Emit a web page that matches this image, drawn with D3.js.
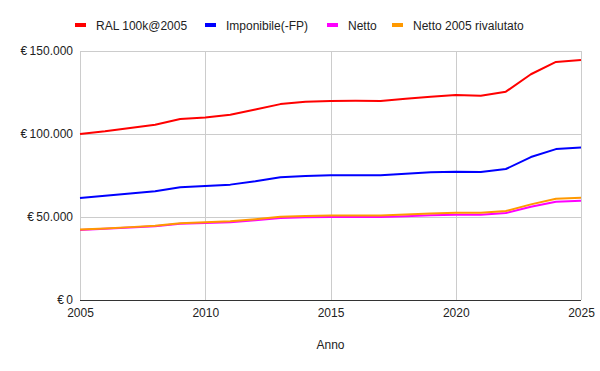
<!DOCTYPE html>
<html lang="it">
<head>
  <meta charset="UTF-8">
  <title>RAL vs Netto</title>
  <script src="https://d3js.org/d3.v7.min.js"></script>
  <style>
    body { margin: 0; font-family: "Liberation Sans", Arial, sans-serif; background: #fff; }
    .grid line { stroke: #ccc; stroke-width: 1; shape-rendering: crispEdges; }
    .line { fill: none; stroke-width: 2; stroke-linejoin: round; }
  </style>
</head>
<body>
  <svg id="chart" width="600" height="371"></svg>
  <script>
    const years = d3.range(2005, 2026);
    const ral      = [100000, 101600, 103600, 105600, 109000, 110000, 111600, 114700, 118000, 119500, 119900, 120000, 119900, 121300, 122500, 123500, 123100, 125500, 136000, 143400, 144600];
    const impon    = [61400, 62800, 64200, 65500, 67900, 68700, 69500, 71500, 73900, 74700, 75100, 75100, 75100, 76100, 76900, 77300, 77100, 78900, 86100, 90900, 91800];
    const netto    = [42100, 42900, 43700, 44500, 45900, 46400, 46900, 48000, 49400, 49900, 50000, 50000, 50000, 50500, 51000, 51400, 51300, 52400, 56200, 59200, 59800];
    const nettoRiv = [42400, 43100, 43900, 44800, 46200, 46800, 47400, 48700, 50200, 50600, 50900, 50900, 50900, 51500, 52100, 52600, 52500, 53600, 57600, 61000, 61600];
    const seriesNames = ["RAL 100k@2005", "Imponibile(-FP)", "Netto", "Netto 2005 rivalutato"];
    const seriesColors = ["#ff0000", "#0000ff", "#ff00ff", "#ff9900"];
    const yTicks = [0, 50000, 100000, 150000];
    const xTicks = [2005, 2010, 2015, 2020, 2025];

    const allSeries = [ral, impon, netto, nettoRiv];
    const svg = d3.select("#chart");
    const plot = {left: 80, right: 581, top: 51, bottom: 300};

    const x = d3.scaleLinear().domain([2005, 2025]).range([plot.left, plot.right]);
    const y = d3.scaleLinear().domain([0, 150000]).range([plot.bottom, plot.top]);

    const fmt = v => "€\u2009" + d3.format(",")(v).replace(/,/g, ".");

    // gridlines
    const grid = svg.append("g").attr("class", "grid");
    grid.selectAll("line.h").data(yTicks.filter(d => d > 0)).join("line")
      .attr("class", "h")
      .attr("x1", plot.left).attr("x2", plot.right)
      .attr("y1", d => Math.round(y(d)) + 0.5).attr("y2", d => Math.round(y(d)) + 0.5);
    grid.selectAll("line.v").data(xTicks).join("line")
      .attr("class", "v")
      .attr("x1", d => Math.round(x(d)) + 0.5).attr("x2", d => Math.round(x(d)) + 0.5)
      .attr("y1", plot.top).attr("y2", plot.bottom);

    // y axis labels
    const yAxis = svg.append("g").attr("transform", `translate(${plot.left},0)`)
      .call(d3.axisLeft(y).tickValues(yTicks).tickFormat(fmt).tickSize(0).tickPadding(7));
    yAxis.select(".domain").remove();
    yAxis.selectAll("text").style("font-size", "12px").style("fill", "#222")
      .style("font-family", "'Liberation Sans', Arial, sans-serif");

    // x axis labels
    const xAxis = svg.append("g").attr("transform", `translate(0,${plot.bottom})`)
      .call(d3.axisBottom(x).tickValues(xTicks).tickFormat(d3.format("d")).tickSize(0).tickPadding(8));
    xAxis.select(".domain").remove();
    xAxis.selectAll("text").style("font-size", "12px").style("fill", "#222")
      .style("font-family", "'Liberation Sans', Arial, sans-serif");

    // baseline
    svg.append("line")
      .attr("x1", plot.left).attr("x2", plot.right)
      .attr("y1", Math.round(y(0)) + 0.5).attr("y2", Math.round(y(0)) + 0.5)
      .attr("stroke", "#333").attr("shape-rendering", "crispEdges");

    // lines
    const line = d3.line().x((d, i) => x(years[i])).y(d => y(d));
    svg.append("g").selectAll("path").data(allSeries).join("path")
      .attr("class", "line")
      .attr("stroke", (d, i) => seriesColors[i])
      .attr("d", line);

    // axis title
    svg.append("text").attr("x", (plot.left + plot.right) / 2).attr("y", 349)
      .attr("text-anchor", "middle").style("font-size", "12px").style("fill", "#222")
      .text("Anno");

    // legend
    const legX = [75, 205, 327, 392];
    const leg = svg.append("g").selectAll("g").data(seriesNames).join("g")
      .attr("transform", (d, i) => `translate(${legX[i]},25)`);
    leg.append("rect").attr("x", 0).attr("y", -2).attr("width", 11).attr("height", 4)
      .attr("fill", (d, i) => seriesColors[i]);
    leg.append("text").attr("x", 21).attr("y", 4.5)
      .style("font-size", "12px").style("fill", "#222").text(d => d);
  </script>
</body>
</html>
